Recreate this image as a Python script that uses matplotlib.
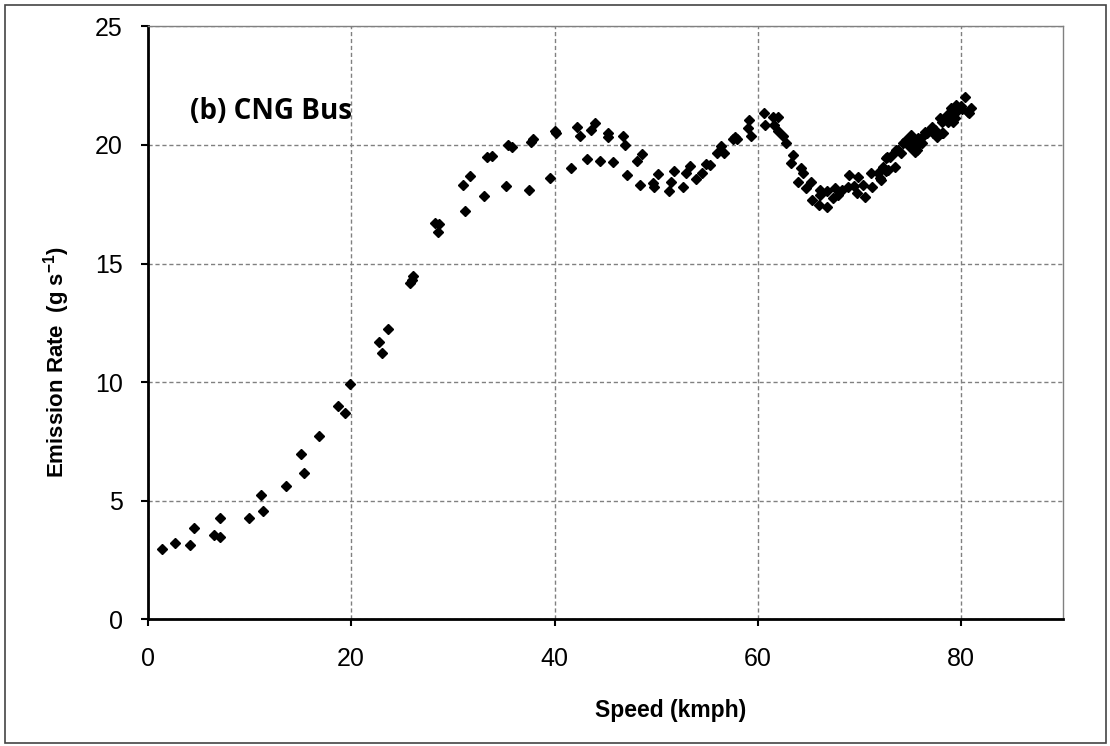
import matplotlib
matplotlib.use("Agg")
import matplotlib.pyplot as plt
from matplotlib.patches import Rectangle

speed = [1.41, 2.66, 4.17, 4.53, 6.50, 7.06, 7.06, 9.98, 11.13, 11.29, 13.6, 15.07, 15.33, 16.81,
         18.75, 19.41, 19.9, 22.79, 23.08, 23.67, 25.81, 25.94, 26.1, 28.28, 28.57, 28.67,
         30.96, 31.16, 31.72, 33.05, 33.4, 33.86, 35.2, 35.47, 35.86, 37.5, 37.65, 37.85,
         39.6, 40.03, 40.15, 41.65, 42.2, 42.5, 43.17, 43.58, 43.95, 44.46, 45.25, 45.3,
         45.77, 46.7, 46.96, 47.1, 48.1, 48.4, 48.57, 49.7, 49.8, 50.18, 51.3, 51.43, 51.78,
         52.6, 52.9, 53.36, 53.9, 54.5, 54.9, 55.3, 55.96, 56.4, 56.65, 57.57, 57.7, 57.96,
         59.0, 59.15, 59.3, 60.6, 60.72, 61.48, 61.6, 62.0, 61.97, 62.46, 62.72, 63.28, 63.45,
         63.94, 64.2, 64.43, 64.76, 65.18, 65.32, 66.0, 66.07, 66.07, 66.76, 66.83, 67.39,
         67.55, 67.88, 68.3, 68.87, 69.0, 69.46, 69.7, 69.8, 70.35, 70.5, 71.1, 71.26, 71.8,
         71.98, 72.15, 72.3, 72.64, 72.64, 72.74, 72.8, 72.97, 73.46, 73.46, 73.6, 73.8, 74.1,
         74.3, 74.6, 74.8, 74.93, 75.1, 75.3, 75.4, 75.4, 75.6, 75.6, 75.77, 76.1, 76.1, 76.4,
         76.6, 77.07, 77.2, 77.4, 77.57, 77.9, 78.06, 78.06, 78.23, 78.55, 78.7, 78.7, 79.0,
         79.2, 79.37, 79.37, 79.5, 79.96, 80.1, 80.36, 80.7, 80.75, 81.0]
emission = [2.96, 3.20, 3.13, 3.86, 3.55, 3.48, 4.28, 4.26, 5.23, 4.58, 5.6, 6.96, 6.15, 7.74,
            9.0, 8.71, 9.93, 11.68, 11.21, 12.23, 14.18, 14.3, 14.47, 16.72, 16.32, 16.68,
            18.32, 17.23, 18.70, 17.85, 19.48, 19.53, 18.27, 19.98, 19.90, 18.1, 20.11, 20.24,
            18.62, 20.59, 20.5, 19.05, 20.76, 20.36, 19.42, 20.63, 20.91, 19.31, 20.51, 20.35,
            19.27, 20.38, 20.02, 18.73, 19.34, 18.31, 19.6, 18.41, 18.21, 18.76, 18.06, 18.45, 18.9,
            18.24, 18.8, 19.11, 18.56, 18.83, 19.19, 19.15, 19.65, 19.97, 19.65, 20.24, 20.35, 20.24,
            20.7, 21.05, 20.38, 21.36, 20.86, 21.16, 20.84, 21.19, 20.6, 20.38, 20.1, 19.25, 19.57,
            18.45, 19.01, 18.8, 18.17, 18.45, 17.68, 17.47, 18.1, 17.89, 18.07, 17.4, 17.75,
            18.17, 17.89, 18.1, 18.24, 18.73, 18.27, 17.96, 18.66, 18.31, 17.79, 18.8, 18.24, 18.83,
            18.6, 18.52, 19.08, 19.43, 18.9, 19.48, 18.94, 19.5, 19.71, 19.08, 19.8, 19.78, 19.65,
            20.07, 20.21, 20.14, 19.92, 20.42, 20.21, 19.71, 19.86, 19.95, 19.78, 20.28, 20.07, 20.35, 20.56,
            20.49, 20.77, 20.49, 20.63, 20.35, 21.12, 20.98, 20.49, 20.51, 21.26, 20.98, 21.12, 21.54,
            20.98, 21.12, 21.33, 21.68, 21.64, 21.5, 22.03, 21.4, 21.33, 21.54]

x_ticks = [0, 20, 40, 60, 80]
y_ticks = [0, 5, 10, 15, 20, 25]

W, H = 1110, 746
fig = plt.figure(figsize=(W / 100, H / 100), dpi=100)
fig.patches.append(Rectangle((5 / W, 3 / H), 1 - 9 / W, 1 - 8 / H, transform=fig.transFigure,
                             fill=False, edgecolor="#444444", linewidth=1.2))
ax = fig.add_axes([147.7 / W, 1 - 619.3 / H, (1063 - 147.7) / W, (619.3 - 26.4) / H])

ax.plot(speed, emission, linestyle="none", marker="D", markersize=4.8, color="black")

ax.set_xlim(0, 90)
ax.set_ylim(0, 25)
ax.set_xticks(x_ticks)
ax.set_yticks(y_ticks)
ax.grid(True, linestyle=(0, (3, 2)), color="#808080", linewidth=1.0)
ax.set_axisbelow(True)

for s in ["left", "bottom"]:
    ax.spines[s].set_linewidth(2.0)
    ax.spines[s].set_color("black")
for s in ["top", "right"]:
    ax.spines[s].set_linewidth(1.0)
    ax.spines[s].set_color("#808080")

ax.tick_params(axis="both", direction="out", length=5, width=1.5, color="black",
               labelsize=18)
ax.tick_params(axis="x", pad=15)
ax.tick_params(axis="y", pad=13)
for lab in ax.get_xticklabels() + ax.get_yticklabels():
    lab.set_family("Liberation Sans")

fig.text(671 / W, 1 - 710 / H, "Speed (kmph)", fontsize=16.5, fontweight="bold",
         family="Liberation Sans", ha="center", va="center")
fig.text(57 / W, 1 - 362 / H, r"Emission Rate  (g s$^{\mathregular{-1}}$)", fontsize=16,
         fontweight="bold", family="Liberation Sans", ha="center", va="center", rotation=90)

ax.text(4.17, 21.4, "(b) CNG Bus", fontsize=20, fontweight="bold", family="Open Sans",
        va="center", ha="left")

fig.savefig("out.png", dpi=100)
